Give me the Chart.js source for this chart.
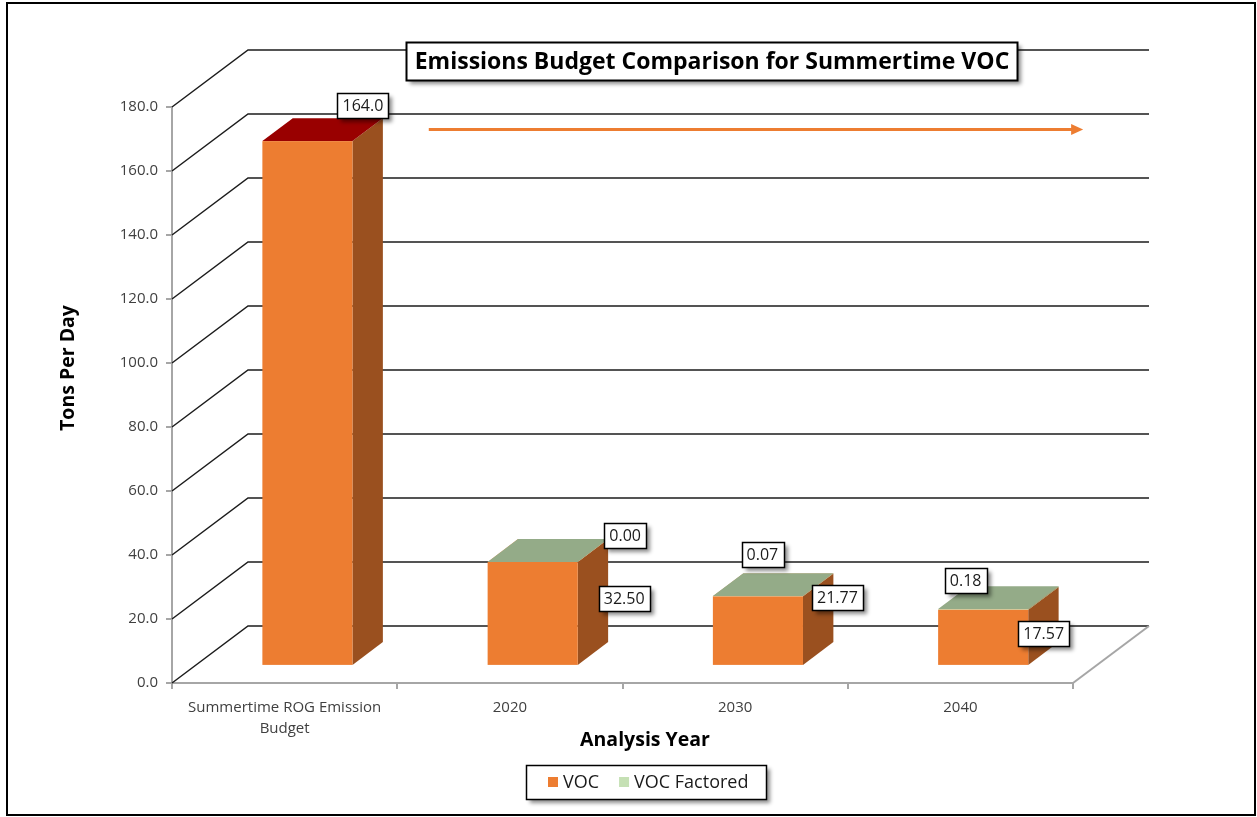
<!DOCTYPE html>
<html>
<head>
<meta charset="utf-8">
<title>Emissions Budget Comparison for Summertime VOC</title>
<script src="https://cdn.jsdelivr.net/npm/chart.js@4.4.0/dist/chart.umd.min.js"></script>
<style>
    html, body { margin: 0; padding: 0; background: #fff; }
    #wrap { width: 1257px; height: 817px; position: relative; }
</style>
</head>
<body>
<div id="wrap"><canvas id="emissionsChart" width="1257" height="817"></canvas></div>
<script>
// Chart data
const categories = [['Summertime ROG Emission', 'Budget'], '2020', '2030', '2040'];
const vocValues = [164.0, 32.50, 21.77, 17.57];
const vocFactoredValues = [null, 0.00, 0.07, 0.18];
const yTickValues = [0, 20, 40, 60, 80, 100, 120, 140, 160, 180];
const vocLabelDecimals = [1, 2, 2, 2];

// 3D look: depth of the walls and where the boxes sit in that depth
const WALL_DX = 76;
const WALL_DY = 57;
const BAR_FRONT = 0.3;
const BAR_BACK = 0.7;

// colours
const ORANGE = '#ED7D31';
const ORANGE_SIDE = '#9A501F';
const GREEN = '#C5E0B4';
const GREEN_SIDE = '#7E9570';
const GREEN_TOP = '#94AB88';
const vocTopColors = ['#990000', '#F29A5E', '#F29A5E', '#F29A5E'];
const GRID = '#1c1c1c';
const AXIS = '#a6a6a6';
const FONT = '"Open Sans", "Noto Sans", sans-serif';

// label placement, relative to the back top-right corner of each box
const vocLabelOffsets = [[-20, -13], [16, 59], [4, 24], [-15, 47]];
const factoredLabelOffsets = [null, [17, -4], [-71, -19], [-93, -6]];

function poly(ctx, pts, color) {
    ctx.beginPath();
    ctx.moveTo(pts[0][0], pts[0][1]);
    for (let i = 1; i < pts.length; i++) ctx.lineTo(pts[i][0], pts[i][1]);
    ctx.closePath();
    ctx.fillStyle = color;
    ctx.fill();
}

function drawBox(ctx, xl, xr, yTop, yBase, front, side, top) {
    const fx = WALL_DX * BAR_FRONT, fy = WALL_DY * BAR_FRONT;
    const bx = WALL_DX * BAR_BACK, by = WALL_DY * BAR_BACK;
    poly(ctx, [[xr + fx, yTop - fy], [xr + bx, yTop - by], [xr + bx, yBase - by], [xr + fx, yBase - fy]], side);
    ctx.fillStyle = front;
    ctx.fillRect(xl + fx, yTop - fy, xr - xl, yBase - yTop);
    poly(ctx, [[xl + fx, yTop - fy], [xr + fx, yTop - fy], [xr + bx, yTop - by], [xl + bx, yTop - by]], top);
}

function shadowBox(ctx, x, y, w, h, lw) {
    ctx.save();
    ctx.shadowColor = 'rgba(0,0,0,0.45)';
    ctx.shadowBlur = 4;
    ctx.shadowOffsetX = 3;
    ctx.shadowOffsetY = 3;
    ctx.fillStyle = '#fff';
    ctx.fillRect(x, y, w, h);
    ctx.restore();
    ctx.strokeStyle = '#000';
    ctx.lineWidth = lw;
    ctx.strokeRect(x, y, w, h);
}

function dataLabel(ctx, text, cx, cy) {
    ctx.font = '16px ' + FONT;
    const w = ctx.measureText(text).width + 10;
    const h = 25;
    shadowBox(ctx, Math.round(cx - w / 2) + 0.5, Math.round(cy - h / 2) + 0.5, Math.round(w), h, 1.5);
    ctx.fillStyle = '#1a1a1a';
    ctx.textAlign = 'center';
    ctx.textBaseline = 'middle';
    ctx.fillText(text, cx, cy + 1);
}

const scene3d = {
    id: 'scene3d',
    beforeDatasetsDraw(chart) {
        const ctx = chart.ctx;
        const area = chart.chartArea;
        const y = chart.scales.y;
        ctx.save();

        // back wall and side wall lines
        ctx.strokeStyle = GRID;
        ctx.lineWidth = 1.5;
        yTickValues.forEach(v => {
            const py = y.getPixelForValue(v);
            ctx.beginPath();
            ctx.moveTo(area.left, py);
            ctx.lineTo(area.left + WALL_DX, py - WALL_DY);
            ctx.lineTo(area.right + WALL_DX, py - WALL_DY);
            ctx.stroke();
        });

        // floor right edge
        ctx.strokeStyle = AXIS;
        ctx.lineWidth = 2;
        ctx.beginPath();
        ctx.moveTo(area.right, area.bottom);
        ctx.lineTo(area.right + WALL_DX, area.bottom - WALL_DY);
        ctx.stroke();

        // boxes
        const vocMeta = chart.getDatasetMeta(0);
        const facMeta = chart.getDatasetMeta(1);
        vocMeta.data.forEach((el, i) => {
            const p = el.getProps(['x', 'y', 'base', 'width'], true);
            const xl = p.x - p.width / 2, xr = p.x + p.width / 2;
            drawBox(ctx, xl, xr, p.y, p.base, ORANGE, ORANGE_SIDE, vocTopColors[i]);
            if (vocFactoredValues[i] !== null) {
                const q = facMeta.data[i].getProps(['y', 'base'], true);
                drawBox(ctx, xl, xr, q.y, q.base, GREEN, GREEN_SIDE, GREEN_TOP);
            }
        });
        ctx.restore();
        return false;
    },
    afterDraw(chart) {
        const ctx = chart.ctx;
        const x = chart.scales.x;
        const y = chart.scales.y;
        const bx = WALL_DX * BAR_BACK, by = WALL_DY * BAR_BACK;
        ctx.save();

        // orange arrow across the budget level
        const ay = y.getPixelForValue(173);
        const ax0 = x.getPixelForValue(0.64);
        const ax1 = x.getPixelForValue(3.545);
        ctx.strokeStyle = ORANGE;
        ctx.lineWidth = 3;
        ctx.beginPath();
        ctx.moveTo(ax0, ay);
        ctx.lineTo(ax1 - 10, ay);
        ctx.stroke();
        poly(ctx, [[ax1, ay], [ax1 - 12, ay - 5.5], [ax1 - 12, ay + 5.5]], ORANGE);

        // data labels
        const vocMeta = chart.getDatasetMeta(0);
        const facMeta = chart.getDatasetMeta(1);
        vocMeta.data.forEach((el, i) => {
            const p = el.getProps(['x', 'y', 'width'], true);
            const cx = p.x + p.width / 2 + bx;
            const o = vocLabelOffsets[i];
            dataLabel(ctx, vocValues[i].toFixed(vocLabelDecimals[i]), cx + o[0], p.y - by + o[1]);
            if (vocFactoredValues[i] !== null) {
                const q = facMeta.data[i].getProps(['y'], true);
                const f = factoredLabelOffsets[i];
                dataLabel(ctx, vocFactoredValues[i].toFixed(2), cx + f[0], q.y - by + f[1]);
            }
        });

        // title box
        shadowBox(ctx, 406.5, 42.5, 611, 38, 2);
        ctx.fillStyle = '#000';
        ctx.font = 'bold 23px ' + FONT;
        ctx.textAlign = 'center';
        ctx.textBaseline = 'middle';
        ctx.fillText('Emissions Budget Comparison for Summertime VOC', 712, 62);

        // axis titles
        ctx.font = 'bold 19.5px ' + FONT;
        ctx.fillText('Analysis Year', 645, 740);
        ctx.save();
        ctx.translate(68, 368);
        ctx.rotate(-Math.PI / 2);
        ctx.fillText('Tons Per Day', 0, 0);
        ctx.restore();

        // legend
        shadowBox(ctx, 526.5, 765.5, 240, 34, 1.5);
        ctx.font = '18px ' + FONT;
        ctx.textAlign = 'left';
        let lx = 548;
        chart.data.datasets.forEach(ds => {
            ctx.fillStyle = ds.backgroundColor;
            ctx.fillRect(lx, 777, 10, 10);
            ctx.fillStyle = '#1a1a1a';
            ctx.fillText(ds.label, lx + 15, 783);
            lx += 15 + ctx.measureText(ds.label).width + 20;
        });

        // outer frame
        ctx.strokeStyle = '#000';
        ctx.lineWidth = 2;
        ctx.strokeRect(7, 3, 1248, 812);
        ctx.restore();
    }
};

new Chart(document.getElementById('emissionsChart'), {
    type: 'bar',
    data: {
        labels: categories,
        datasets: [{
            label: 'VOC',
            data: vocValues,
            backgroundColor: ORANGE
        }, {
            label: 'VOC Factored',
            data: vocFactoredValues,
            backgroundColor: GREEN
        }]
    },
    options: {
        responsive: false,
        animation: false,
        devicePixelRatio: 1,
        categoryPercentage: 1,
        barPercentage: 0.4,
        layout: {
            padding: { left: 0, top: 107, right: 184, bottom: 0 }
        },
        plugins: {
            legend: { display: false },
            title: { display: false },
            tooltip: { enabled: false }
        },
        scales: {
            x: {
                stacked: true,
                grid: { offset: true, drawOnChartArea: false, tickLength: 6, color: AXIS, lineWidth: 2 },
                border: { color: AXIS, width: 2 },
                ticks: {
                    autoSkip: false,
                    maxRotation: 0,
                    padding: 8,
                    color: '#404040',
                    font: { family: FONT, size: 15, lineHeight: 1.4 }
                },
                afterFit: function(scale) { scale.height = 134; }
            },
            y: {
                stacked: true,
                min: 0,
                max: 180,
                grid: { drawOnChartArea: false, tickLength: 6, color: AXIS, lineWidth: 2 },
                border: { color: AXIS, width: 2 },
                afterBuildTicks: function(scale) {
                    scale.ticks = yTickValues.map(v => ({ value: v }));
                },
                ticks: {
                    padding: 8,
                    color: '#404040',
                    font: { family: FONT, size: 15 },
                    callback: function(value) { return value.toFixed(1); }
                },
                afterFit: function(scale) { scale.width = 172; }
            }
        }
    },
    plugins: [scene3d]
});
</script>
</body>
</html>
